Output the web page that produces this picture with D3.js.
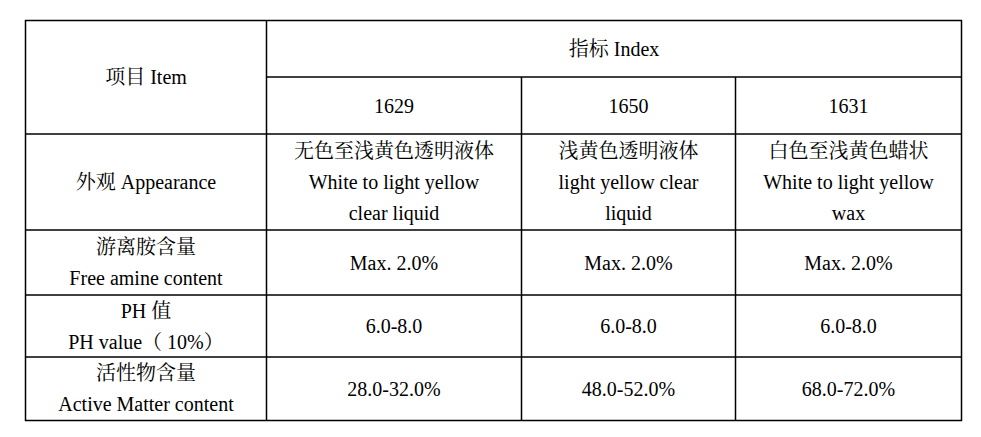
<!DOCTYPE html>
<html><head><meta charset="utf-8">
<script src="https://cdn.jsdelivr.net/npm/d3@7"></script>
<style>body{margin:0;background:#fff}</style>
</head><body><div id="chart"></div>
<script>
// table content
var products = ['1629', '1650', '1631']
var itemLabels = [
    ['外观 Appearance'],
    ['游离胺含量', 'Free amine content'],
    ['PH 值', 'PH value（ 10%）'],
    ['活性物含量', 'Active Matter content']
]
var cellValues = [
    [['无色至浅黄色透明液体', 'White to light yellow', 'clear liquid'], ['浅黄色透明液体', 'light yellow clear', 'liquid'], ['白色至浅黄色蜡状', 'White to light yellow', 'wax']],
    [['Max. 2.0%'], ['Max. 2.0%'], ['Max. 2.0%']],
    [['6.0-8.0'], ['6.0-8.0'], ['6.0-8.0']],
    [['28.0-32.0%'], ['48.0-52.0%'], ['68.0-72.0%']]
]

var layout = {
    colEdges: [25.5, 266.5, 521.5, 735.5, 961.5],
    rowEdges: [20.5, 77, 134, 230, 295, 357, 420.5],
    lineHeight: 31
}

var svg = d3.select('#chart').append('svg').attr('width', 981).attr('height', 437)
var font = '"Liberation Serif", "Noto Serif CJK SC", "Noto Sans CJK SC", serif'

var ce = layout.colEdges, re = layout.rowEdges
var lines = svg.append('g').attr('stroke', '#000').attr('stroke-width', 1.5)
// outer border
lines.append('rect').attr('x', ce[0]).attr('y', re[0]).attr('width', ce[4] - ce[0]).attr('height', re[6] - re[0]).attr('fill', 'none')
// vertical lines
lines.append('line').attr('x1', ce[1]).attr('x2', ce[1]).attr('y1', re[0]).attr('y2', re[6])
;[2, 3].forEach(function(i) {
    lines.append('line').attr('x1', ce[i]).attr('x2', ce[i]).attr('y1', re[1]).attr('y2', re[6])
})
lines.append('line').attr('x1', ce[1]).attr('x2', ce[4]).attr('y1', re[1]).attr('y2', re[1])
for (var r = 2; r < 6; r++) {
    lines.append('line').attr('x1', ce[0]).attr('x2', ce[4]).attr('y1', re[r]).attr('y2', re[r])
}

function cellText(x0, x1, y0, y1, textLines) {
    var cx = (x0 + x1) / 2, cy = (y0 + y1) / 2
    var n = textLines.length
    textLines.forEach(function(t, i) {
        svg.append('text')
        .attr('x', cx)
        .attr('y', cy + (i - (n - 1) / 2) * layout.lineHeight)
        .attr('dy', '0.35em')
        .attr('text-anchor', 'middle')
        .style('font-family', font)
        .style('font-size', '20px')
        .text(t)
    })
}

cellText(ce[0], ce[1], re[0], re[2], ['项目 Item'])
cellText(ce[1], ce[4], re[0], re[1], ['指标  Index'])
products.forEach(function(p, i) { cellText(ce[i + 1], ce[i + 2], re[1], re[2], [p]) })
itemLabels.forEach(function(lbl, r) {
    cellText(ce[0], ce[1], re[r + 2], re[r + 3], lbl)
    cellValues[r].forEach(function(v, c) { cellText(ce[c + 1], ce[c + 2], re[r + 2], re[r + 3], v) })
})
</script></body></html>
